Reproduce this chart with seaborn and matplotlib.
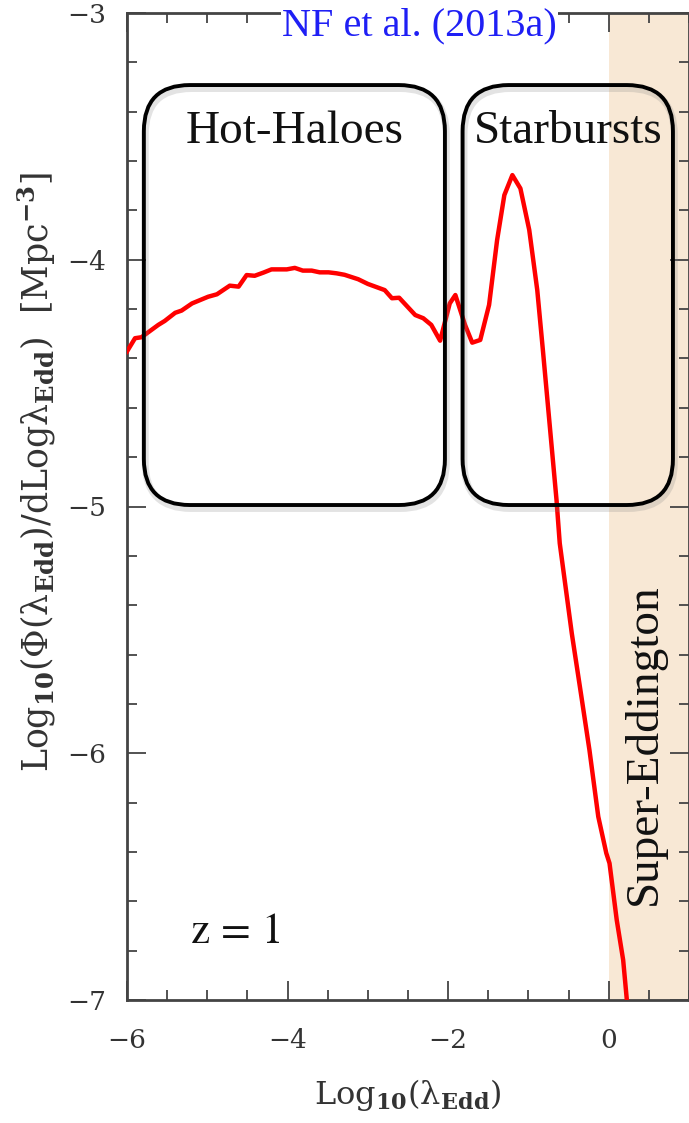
import numpy as np
import pandas as pd
import matplotlib
matplotlib.use("Agg")
import matplotlib.pyplot as plt
import seaborn as sns
from matplotlib.patches import FancyBboxPatch
from matplotlib import patheffects as pe
from matplotlib.ticker import MultipleLocator, FixedLocator

# ---------------- data ----------------
log_lambda = [-6.01, -5.90, -5.82, -5.61, -5.53, -5.40, -5.32, -5.19, -4.99, -4.88,
              -4.72, -4.61, -4.51, -4.41, -4.30, -4.20, -4.01, -3.91, -3.81, -3.70,
              -3.60, -3.49, -3.39, -3.29, -3.12, -3.00, -2.79, -2.70, -2.61, -2.41,
              -2.31, -2.21, -2.10, -1.98, -1.91, -1.79, -1.70, -1.60, -1.49, -1.39,
              -1.30, -1.20, -1.10, -0.99, -0.89, -0.82, -0.65, -0.61, -0.46, -0.34,
              -0.24, -0.13, -0.03, 0.01, 0.10, 0.18, 0.24]
log_phi = [-4.377, -4.318, -4.314, -4.264, -4.248, -4.215, -4.206, -4.177, -4.150, -4.140,
           -4.105, -4.109, -4.062, -4.065, -4.052, -4.039, -4.039, -4.033, -4.044, -4.044,
           -4.051, -4.051, -4.055, -4.061, -4.079, -4.098, -4.123, -4.156, -4.154, -4.224,
           -4.237, -4.264, -4.328, -4.177, -4.143, -4.264, -4.336, -4.325, -4.183, -3.920,
           -3.738, -3.657, -3.711, -3.879, -4.123, -4.366, -4.974, -5.149, -5.514, -5.771,
           -5.987, -6.257, -6.405, -6.446, -6.676, -6.838, -7.05]

region_labels = ["Hot-Haloes", "Starbursts"]
region_x0 = [-5.79, -1.82]
region_x1 = [-2.04, 0.80]
region_y0 = [-4.994, -4.994]
region_y1 = [-3.292, -3.292]

x_ticks = [-6, -4, -2, 0]
x_ticklabels = ["\u22126", "\u22124", "\u22122", "0"]
y_ticks = [-7, -6, -5, -4, -3]
y_ticklabels = ["\u22127", "\u22126", "\u22125", "\u22124", "\u22123"]

title_text = "NF et al. (2013a)"
z_text = r"$\mathrm{z}\,=\,1$"
super_text = "Super-Eddington"

# ---------------- style ----------------
sns.set_theme(style="ticks")
plt.rcParams["font.family"] = ["DejaVu Serif"]
plt.rcParams["mathtext.fontset"] = "dejavuserif"

W, H = 689, 1123
fig = plt.figure(figsize=(W / 100, H / 100), dpi=100)
axl, axr, axb, axt = 127, 689, 1000, 13
ax = fig.add_axes([axl / W, 1 - axb / H, (axr - axl) / W, (axb - axt) / H])

xlim = (-6, 1)
ylim = (-7, -3)
ax.set_xlim(*xlim)
ax.set_ylim(*ylim)

df = pd.DataFrame({"x": log_lambda, "y": log_phi})
ax.axvspan(0, 1, color="#F8E8D5", zorder=0, lw=0)
sns.lineplot(data=df, x="x", y="y", sort=False, color="#FF0000", lw=3.2,
             ax=ax, zorder=3)

# rounded boxes
px_per_x = (axr - axl) / (xlim[1] - xlim[0])
px_per_y = (axb - axt) / (ylim[1] - ylim[0])
asp = px_per_x / px_per_y
r = 46 / px_per_x
for lab, x0, x1, y0, y1 in zip(region_labels, region_x0, region_x1, region_y0, region_y1):
    box = FancyBboxPatch((x0, y0), x1 - x0, y1 - y0,
                         boxstyle=f"round,pad=0,rounding_size={r}",
                         mutation_aspect=asp, fc="none", ec="black", lw=2.8, zorder=4)
    box.set_path_effects([pe.SimpleLineShadow(offset=(1.0, -2.5), shadow_color="gray",
                                              alpha=0.22, linewidth=5),
                          pe.Normal()])
    ax.add_patch(box)
    ax.text((x0 + x1) / 2, -3.527, lab, ha="center", va="baseline",
            fontsize=34, family="Liberation Serif", color="#111111", zorder=5)

ax.text(-2.36, -3.089, title_text, ha="center", va="baseline", fontsize=29,
        family="Liberation Serif", color="#1F1FF5", zorder=5,
        bbox=dict(fc="white", ec="none", pad=1))
ax.text(-4.65, -6.769, z_text, ha="center", va="baseline", fontsize=31,
        math_fontfamily="stix", color="#111111", zorder=5)
ax.text(0.45, -5.963, super_text, ha="center", va="center", rotation=90,
        fontsize=34, family="Liberation Serif", color="#111111", zorder=5)

# ticks
ax.xaxis.set_major_locator(FixedLocator(x_ticks))
ax.set_xticklabels(x_ticklabels)
ax.xaxis.set_minor_locator(MultipleLocator(0.5))
ax.yaxis.set_major_locator(FixedLocator(y_ticks))
ax.set_yticklabels(y_ticklabels)
ax.yaxis.set_minor_locator(MultipleLocator(0.2))
tick_col = "#444444"
ax.tick_params(which="both", direction="in", top=True, right=True, color=tick_col,
               width=1.3, labelcolor="#333333", labelsize=19)
ax.tick_params(which="major", length=14)
ax.tick_params(which="minor", length=7)
ax.tick_params(axis="x", which="major", pad=20)
ax.tick_params(axis="y", which="major", pad=15)
for s in ax.spines.values():
    s.set_color(tick_col)
    s.set_linewidth(2.0)

ax.set_xlabel("Log$_{\\mathbf{10}}$(λ$_{\\mathbf{Edd}}$)", fontsize=23, color="#333333")
ax.set_ylabel("Log$_{\\mathbf{10}}$(Φ(λ$_{\\mathbf{Edd}}$)/dLogλ$_{\\mathbf{Edd}}$)  [Mpc$^{\\mathbf{-3}}$]",
              fontsize=25, color="#333333")
ax.xaxis.label.set_va("center")
ax.yaxis.label.set_va("center")
ax.xaxis.set_label_coords(0.5, -0.096)
ax.yaxis.set_label_coords(-0.160, 0.535)

fig.savefig("out.png", dpi=100)
